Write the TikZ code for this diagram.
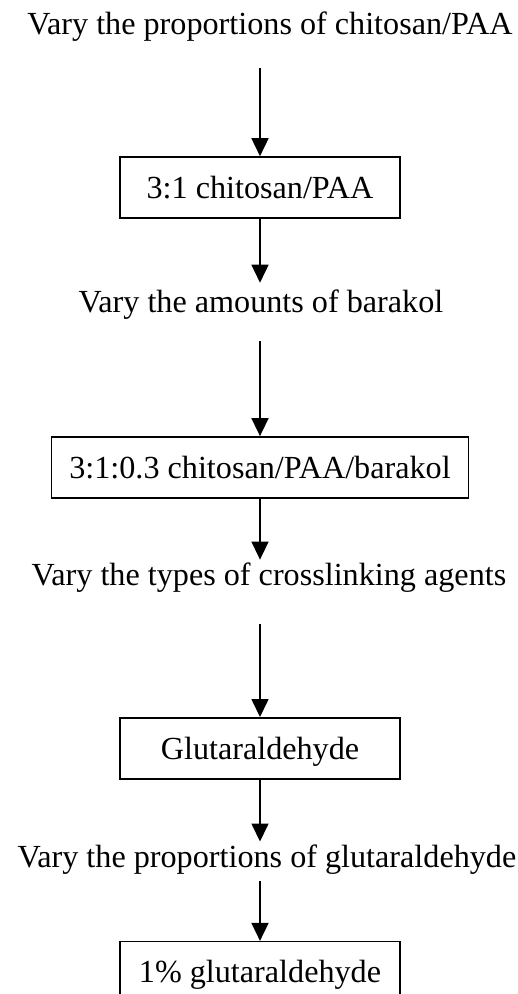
\documentclass[tikz,border=0pt]{standalone}
\usepackage{fontspec}
\setmainfont{Liberation Serif}
\usetikzlibrary{arrows.meta,positioning}
\tikzset{
  stepbox/.style={draw, line width=1.5bp, inner sep=0pt, minimum height=61bp, minimum width=#1,
    text height=21.5bp, text depth=0pt},
  stepbox/.default=280bp,
  flow/.style={-{Triangle[length=18bp, width=17bp]}, line width=1.6bp},
}
\begin{document}
\begin{tikzpicture}[x=1bp, y=1bp, font=\fontsize{32.3}{39}\selectfont,
  vary/.style={inner sep=0pt, text height=21.5bp, text depth=7bp}]
  \useasboundingbox (0,0) rectangle (518,-994);
  \node[vary, anchor=base] (t1) at (270,-34) {Vary the proportions of chitosan/PAA};
  \node[stepbox, below=115bp of t1, xshift=-10bp] (b1) {3:1 chitosan/PAA};
  \node[vary, below=72.5bp of b1, xshift=1bp] (t2) {Vary the amounts of barakol};
  \node[stepbox=417bp, below=116bp of t2, xshift=-1bp] (b2) {3:1:0.3 chitosan/PAA/barakol};
  \node[vary, below=65bp of b2, xshift=9bp] (t3) {Vary the types of crosslinking agents};
  \node[stepbox, below=124.5bp of t3, xshift=-9bp] (b3) {Glutaraldehyde};
  \node[vary, below=66.5bp of b3, xshift=7bp] (t4) {Vary the proportions of glutaraldehyde};
  \node[stepbox, below=66bp of t4, xshift=-7bp] (b4) {1\% glutaraldehyde};
  % arrows down the column
  \draw[flow, shorten <=27bp] (b1.north |- t1.south) -- (b1.north);
  \draw[flow, shorten >=8.5bp] (b1.south) -- (b1.south |- t2.north);
  \draw[flow, shorten <=21bp] (b2.north |- t2.south) -- (b2.north);
  \draw[flow, shorten >=4bp] (b2.south) -- (b2.south |- t3.north);
  \draw[flow, shorten <=31bp] (b3.north |- t3.south) -- (b3.north);
  \draw[flow, shorten >=4.5bp] (b3.south) -- (b3.south |- t4.north);
  \draw[flow, shorten <=6bp] (b4.north |- t4.south) -- (b4.north);
\end{tikzpicture}
\end{document}
